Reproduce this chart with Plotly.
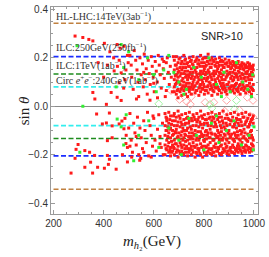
import plotly.graph_objects as go

# ---------------- data ----------------
# horizontal sensitivity lines (|sin theta| reach)
line_names = ["HL-LHC", "ILC250", "ILC1TeV", "CircEE"]
line_levels = [0.343, 0.205, 0.133, 0.080]
line_colors = ["#c0803f", "#1a2cff", "#1e8c1e", "#33eeee"]
line_x = [200, 1000]

# red points, sparse low-mass region (x, y)
red_sparse = [(286, 0.29), (317, 0.284), (341, 0.276), (357, 0.27), (403, 0.26), (454, 0.255),
              (466, 0.24), (481, 0.248), (462, 0.19), (442, 0.146), (470, 0.138), (489, 0.15),
              (485, 0.11), (462, 0.097), (357, 0.057), (430, 0.057), (454, 0.037), (411, 0.008),
              (470, 0.024), (425, 0.225), (440, 0.2), (495, 0.21), (378, 0.18), (415, 0.17),
              (455, 0.165), (498, 0.18), (480, 0.075), (400, 0.12), (365, 0.03),
              (372, -0.032), (423, -0.028), (395, -0.073), (411, -0.069), (434, -0.081),
              (462, -0.073), (473, -0.061), (481, -0.093), (434, -0.13), (415, -0.142),
              (489, -0.154), (298, -0.158), (290, -0.178), (325, -0.183), (344, -0.19),
              (286, -0.215), (364, -0.203), (415, -0.203), (423, -0.219), (348, -0.231),
              (325, -0.252), (376, -0.252), (403, -0.256), (419, -0.24), (450, -0.26),
              (270, -0.276), (356, -0.276), (475, -0.2), (495, -0.23)]

# red points, intermediate region
red_mid = [(505, 0.21), (510, 0.17), (512, 0.12), (518, 0.07), (522, 0.23), (528, 0.19), (533, 0.15),
           (537, 0.1), (540, 0.04), (545, 0.2), (550, 0.13), (555, 0.175), (558, 0.08), (562, 0.215),
           (566, 0.11), (570, 0.155), (574, 0.05), (578, 0.19), (582, 0.135), (586, 0.09), (590, 0.205),
           (594, 0.165), (598, 0.12), (602, 0.06), (606, 0.185), (610, 0.145), (614, 0.1), (618, 0.21),
           (622, 0.17), (626, 0.13), (630, 0.075), (634, 0.195), (638, 0.155), (642, 0.115), (646, 0.04),
           (650, 0.18), (654, 0.2), (658, 0.14), (662, 0.09), (666, 0.165), (670, 0.12), (674, 0.06),
           (678, 0.205), (531, 0.03), (585, 0.025), (615, 0.035), (650, 0.065), (640, 0.185),
           (600, 0.095), (560, 0.14),
           (485, -0.05), (490, -0.12), (495, -0.17), (500, -0.09), (505, -0.03), (510, -0.14),
           (515, -0.19), (520, -0.07), (525, -0.11), (530, -0.16), (535, -0.045), (540, -0.2),
           (545, -0.09), (550, -0.13), (555, -0.175), (560, -0.06), (565, -0.1), (570, -0.15),
           (575, -0.025), (580, -0.205), (585, -0.08), (590, -0.12), (595, -0.165), (600, -0.05),
           (605, -0.14), (610, -0.185), (615, -0.095), (620, -0.035), (625, -0.125), (630, -0.17),
           (635, -0.07), (638, -0.2), (512, -0.21), (548, -0.215), (590, -0.21), (560, -0.19),
           (597, -0.04), (625, -0.155), (505, -0.165), (530, -0.125), (544, -0.223)]

# red points, dense high-mass band, upper branch: (x, [y...])
red_dense_up = [
    (682, [0.19, 0.15, 0.11, 0.08, 0.06]), (690, [0.205, 0.17, 0.13, 0.095, 0.05]),
    (697, [0.18, 0.14, 0.12, 0.07, 0.035]), (705, [0.2, 0.16, 0.125, 0.09, 0.06]),
    (712, [0.185, 0.15, 0.105, 0.075, 0.045]), (720, [0.21, 0.175, 0.135, 0.1, 0.065]),
    (727, [0.195, 0.16, 0.12, 0.085, 0.05]), (735, [0.18, 0.145, 0.11, 0.07, 0.04]),
    (742, [0.2, 0.165, 0.13, 0.095, 0.06]), (750, [0.19, 0.155, 0.115, 0.08, 0.05]),
    (757, [0.205, 0.17, 0.14, 0.1, 0.07]), (765, [0.185, 0.15, 0.12, 0.085, 0.055]),
    (772, [0.2, 0.16, 0.13, 0.095, 0.065]), (780, [0.19, 0.175, 0.11, 0.075, 0.045]),
    (787, [0.21, 0.145, 0.125, 0.09, 0.06]), (795, [0.195, 0.165, 0.135, 0.1, 0.07]),
    (802, [0.18, 0.155, 0.115, 0.08, 0.05]), (810, [0.2, 0.17, 0.14, 0.105, 0.065]),
    (817, [0.215, 0.15, 0.12, 0.085, 0.055]), (825, [0.19, 0.16, 0.13, 0.095, 0.07]),
    (832, [0.2, 0.175, 0.11, 0.075, 0.045]), (840, [0.185, 0.145, 0.125, 0.09, 0.06]),
    (847, [0.195, 0.165, 0.135, 0.1, 0.075]), (855, [0.18, 0.155, 0.115, 0.08, 0.05]),
    (862, [0.2, 0.17, 0.14, 0.105, 0.065]), (870, [0.19, 0.15, 0.12, 0.085, 0.055]),
    (877, [0.185, 0.16, 0.13, 0.095, 0.07]), (885, [0.195, 0.175, 0.11, 0.075, 0.06]),
    (892, [0.18, 0.145, 0.125, 0.09, 0.05]), (900, [0.19, 0.165, 0.135, 0.1, 0.075]),
    (907, [0.175, 0.155, 0.115, 0.08, 0.06]), (915, [0.185, 0.17, 0.14, 0.105, 0.065]),
    (922, [0.18, 0.15, 0.12, 0.085, 0.055]), (930, [0.175, 0.16, 0.13, 0.095, 0.07]),
    (937, [0.185, 0.145, 0.11, 0.075, 0.06]), (945, [0.17, 0.155, 0.125, 0.09, 0.05]),
    (952, [0.18, 0.165, 0.135, 0.1, 0.075]), (960, [0.175, 0.15, 0.115, 0.08, 0.065]),
    (967, [0.17, 0.16, 0.14, 0.105, 0.055]), (975, [0.18, 0.145, 0.12, 0.085, 0.07]),
    (982, [0.175, 0.155, 0.13, 0.095, 0.06]), (990, [0.165, 0.14, 0.11, 0.075, 0.05]),
    (997, [0.17, 0.15, 0.125, 0.09, 0.065]),
]
red_dense_up2 = [
    (686, [0.17, 0.125, 0.09]), (694, [0.155, 0.105, 0.065]), (701, [0.195, 0.145, 0.1]),
    (709, [0.175, 0.135, 0.07]), (716, [0.16, 0.115, 0.085]), (724, [0.19, 0.145, 0.075]),
    (731, [0.175, 0.13, 0.095]), (739, [0.165, 0.12, 0.08]), (746, [0.185, 0.14, 0.07]),
    (754, [0.175, 0.125, 0.09]), (761, [0.16, 0.11, 0.08]), (769, [0.19, 0.14, 0.065]),
    (776, [0.175, 0.12, 0.1]), (784, [0.165, 0.135, 0.085]), (791, [0.18, 0.11, 0.075]),
    (799, [0.2, 0.145, 0.09]), (806, [0.165, 0.13, 0.065]), (814, [0.185, 0.115, 0.08]),
    (821, [0.175, 0.14, 0.1]), (829, [0.16, 0.12, 0.085]), (836, [0.19, 0.135, 0.065]),
    (844, [0.17, 0.11, 0.08]), (851, [0.18, 0.145, 0.09]), (859, [0.165, 0.125, 0.07]),
    (866, [0.185, 0.135, 0.095]), (874, [0.17, 0.11, 0.075]), (881, [0.16, 0.14, 0.085]),
    (889, [0.175, 0.12, 0.065]), (896, [0.165, 0.13, 0.09]), (904, [0.18, 0.14, 0.07]),
    (911, [0.16, 0.125, 0.085]), (919, [0.17, 0.11, 0.075]), (926, [0.165, 0.135, 0.09]),
    (934, [0.175, 0.12, 0.065]), (941, [0.16, 0.14, 0.085]), (949, [0.17, 0.115, 0.07]),
    (956, [0.155, 0.13, 0.09]), (964, [0.165, 0.12, 0.075]), (971, [0.16, 0.135, 0.085]),
    (979, [0.165, 0.11, 0.065]), (986, [0.155, 0.125, 0.08]), (994, [0.16, 0.135, 0.07]),
]

# red points, dense high-mass band, lower branch
red_dense_low = [
    (645, [-0.03, -0.08, -0.12, -0.16, -0.2]), (652, [-0.05, -0.1, -0.14, -0.18, -0.06]),
    (660, [-0.025, -0.07, -0.11, -0.15, -0.19]), (667, [-0.04, -0.09, -0.13, -0.17, -0.205]),
    (675, [-0.06, -0.1, -0.12, -0.16, -0.185]), (682, [-0.03, -0.08, -0.14, -0.175, -0.2]),
    (690, [-0.045, -0.095, -0.11, -0.155, -0.19]), (697, [-0.02, -0.065, -0.125, -0.165, -0.21]),
    (705, [-0.05, -0.085, -0.135, -0.15, -0.195]), (712, [-0.035, -0.075, -0.105, -0.17, -0.185]),
    (720, [-0.055, -0.1, -0.13, -0.16, -0.2]), (727, [-0.03, -0.07, -0.12, -0.145, -0.19]),
    (735, [-0.045, -0.09, -0.14, -0.175, -0.205]), (742, [-0.025, -0.06, -0.11, -0.155, -0.185]),
    (750, [-0.05, -0.095, -0.125, -0.165, -0.2]), (757, [-0.035, -0.08, -0.135, -0.15, -0.19]),
    (765, [-0.055, -0.1, -0.115, -0.17, -0.21]), (772, [-0.03, -0.065, -0.13, -0.16, -0.195]),
    (780, [-0.045, -0.085, -0.14, -0.175, -0.185]), (787, [-0.02, -0.075, -0.105, -0.155, -0.2]),
    (795, [-0.05, -0.09, -0.125, -0.165, -0.21]), (802, [-0.035, -0.07, -0.12, -0.145, -0.19]),
    (810, [-0.055, -0.1, -0.135, -0.17, -0.2]), (817, [-0.03, -0.08, -0.11, -0.16, -0.185]),
    (825, [-0.045, -0.095, -0.13, -0.15, -0.195]), (832, [-0.025, -0.06, -0.115, -0.175, -0.2]),
    (840, [-0.05, -0.085, -0.14, -0.165, -0.19]), (847, [-0.035, -0.075, -0.12, -0.155, -0.205]),
    (855, [-0.055, -0.1, -0.125, -0.17, -0.185]), (862, [-0.03, -0.065, -0.135, -0.145, -0.195]),
    (870, [-0.045, -0.09, -0.105, -0.16, -0.2]), (877, [-0.02, -0.07, -0.13, -0.175, -0.19]),
    (885, [-0.05, -0.095, -0.12, -0.155, -0.185]), (892, [-0.035, -0.08, -0.14, -0.165, -0.195]),
    (900, [-0.055, -0.1, -0.115, -0.15, -0.2]), (907, [-0.03, -0.06, -0.125, -0.17, -0.185]),
    (915, [-0.045, -0.085, -0.135, -0.16, -0.19]), (922, [-0.025, -0.075, -0.11, -0.145, -0.195]),
    (930, [-0.05, -0.09, -0.13, -0.175, -0.185]), (937, [-0.035, -0.07, -0.12, -0.155, -0.19]),
    (945, [-0.055, -0.1, -0.14, -0.165, -0.18]), (952, [-0.03, -0.08, -0.105, -0.15, -0.195]),
    (960, [-0.045, -0.095, -0.125, -0.17, -0.185]), (967, [-0.025, -0.065, -0.135, -0.16, -0.19]),
    (975, [-0.05, -0.085, -0.115, -0.145, -0.18]), (982, [-0.035, -0.075, -0.13, -0.175, -0.19]),
    (990, [-0.055, -0.1, -0.12, -0.155, -0.185]), (997, [-0.04, -0.07, -0.14, -0.165, -0.18]),
]
red_dense_low2 = [
    (649, [-0.045, -0.1, -0.175]), (656, [-0.085, -0.125, -0.165]), (664, [-0.055, -0.095, -0.18]),
    (671, [-0.075, -0.145, -0.19]), (679, [-0.04, -0.115, -0.17]), (686, [-0.06, -0.105, -0.155]),
    (694, [-0.08, -0.13, -0.18]), (701, [-0.04, -0.11, -0.185]), (709, [-0.065, -0.12, -0.16]),
    (716, [-0.09, -0.14, -0.195]), (724, [-0.075, -0.115, -0.175]), (731, [-0.05, -0.1, -0.165]),
    (739, [-0.07, -0.125, -0.19]), (746, [-0.085, -0.135, -0.175]), (754, [-0.06, -0.11, -0.18]),
    (761, [-0.045, -0.12, -0.165]), (769, [-0.08, -0.14, -0.19]), (776, [-0.055, -0.105, -0.175]),
    (784, [-0.065, -0.125, -0.195]), (791, [-0.04, -0.115, -0.17]), (799, [-0.075, -0.14, -0.18]),
    (806, [-0.055, -0.105, -0.165]), (814, [-0.07, -0.12, -0.19]), (821, [-0.05, -0.13, -0.175]),
    (829, [-0.08, -0.11, -0.18]), (836, [-0.045, -0.14, -0.19]), (844, [-0.065, -0.115, -0.17]),
    (851, [-0.085, -0.13, -0.185]), (859, [-0.045, -0.11, -0.175]), (866, [-0.08, -0.12, -0.165]),
    (874, [-0.06, -0.14, -0.19]), (881, [-0.085, -0.115, -0.18]), (889, [-0.07, -0.135, -0.17]),
    (896, [-0.05, -0.11, -0.185]), (904, [-0.075, -0.13, -0.175]), (911, [-0.06, -0.115, -0.19]),
    (919, [-0.085, -0.14, -0.17]), (926, [-0.065, -0.12, -0.18]), (934, [-0.055, -0.105, -0.165]),
    (941, [-0.08, -0.135, -0.175]), (949, [-0.065, -0.115, -0.185]), (956, [-0.045, -0.13, -0.17]),
    (964, [-0.075, -0.11, -0.18]), (971, [-0.06, -0.14, -0.165]), (979, [-0.085, -0.12, -0.17]),
    (986, [-0.065, -0.105, -0.175]), (994, [-0.05, -0.13, -0.16]),
]

green_pts = [(294, 0.25), (470, 0.255), (450, 0.08), (480, 0.16), (500, 0.225), (540, 0.11),
             (575, 0.2), (610, 0.06), (640, 0.15), (660, 0.21), (700, 0.1), (730, 0.07),
             (760, 0.16), (790, 0.12), (820, 0.2), (850, 0.09), (880, 0.14), (905, 0.06),
             (930, 0.18), (955, 0.1), (975, 0.07), (995, 0.13), (720, 0.05), (870, 0.04),
             (990, 0.04), (600, 0.13), (680, 0.14), (317, 0.0),
             (305, -0.19), (454, -0.053), (470, -0.085), (480, -0.16), (520, -0.225),
             (490, -0.035), (540, -0.12), (580, -0.06), (620, -0.17), (660, -0.09),
             (700, -0.14), (740, -0.05), (770, -0.12), (800, -0.18), (830, -0.07),
             (860, -0.15), (890, -0.1), (920, -0.06), (950, -0.16), (980, -0.12),
             (997, -0.18), (710, -0.2), (850, -0.04), (1000, -0.085)]

red_diamonds = [(703, 0.028), (731, 0.02), (750, 0.04), (805, 0.016), (840, 0.016), (891, 0.024),
                (930, 0.057), (973, 0.037), (996, 0.024), (669, 0.065), (746, 0.008),
                (942, -0.016), (996, -0.045), (825, -0.045), (883, -0.02), (985, -0.04)]
green_diamonds = [(922, -0.012), (832, -0.008), (825, 0.008), (930, 0.024), (620, 0.01)]

labels = ["HL-LHC:14TeV(3ab<sup>−1</sup>)", "ILC:250GeV(250fb<sup>−1</sup>)",
          "ILC:1TeV(1ab<sup>−1</sup>)",
          "Circ <i>e</i><sup>+</sup><i>e</i><sup>−</sup>:240GeV(1ab<sup>−1</sup>)"]
label_y = [0.372, 0.242, 0.168, 0.105]
x_ticks = [200, 400, 600, 800, 1000]
y_ticks = [-0.4, -0.2, 0.0, 0.2, 0.4]


def flatten(cols):
    xs, ys = [], []
    for x, yl in cols:
        for y in yl:
            xs.append(x)
            ys.append(y)
    return xs, ys


fig = go.Figure()

for name, lv, col in zip(line_names, line_levels, line_colors):
    for s in (1, -1):
        fig.add_trace(go.Scatter(x=line_x, y=[s * lv, s * lv], mode="lines",
                                 line=dict(color=col, width=1.6, dash="5px,2.5px"),
                                 showlegend=False, hoverinfo="skip"))

rx = [p[0] for p in red_sparse + red_mid]
ry = [p[1] for p in red_sparse + red_mid]
for cols in (red_dense_up, red_dense_up2, red_dense_low, red_dense_low2):
    cx, cy = flatten(cols)
    rx += cx
    ry += cy

fig.add_trace(go.Scatter(x=[p[0] for p in red_diamonds], y=[p[1] for p in red_diamonds], mode="markers",
                         marker=dict(symbol="diamond-open", size=6, color="#ff8a8a", line=dict(width=0.8)),
                         showlegend=False))
fig.add_trace(go.Scatter(x=[p[0] for p in green_diamonds], y=[p[1] for p in green_diamonds], mode="markers",
                         marker=dict(symbol="diamond-open", size=6, color="#8af08a", line=dict(width=0.8)),
                         showlegend=False))
fig.add_trace(go.Scatter(x=rx, y=ry, mode="markers",
                         marker=dict(symbol="square", size=3, color="#ff1a1a", line=dict(width=0)),
                         showlegend=False))
fig.add_trace(go.Scatter(x=[p[0] for p in green_pts], y=[p[1] for p in green_pts], mode="markers",
                         marker=dict(symbol="square", size=3, color="#33ee33", line=dict(width=0)),
                         showlegend=False))

ann = []
for t, y in zip(labels, label_y):
    ann.append(dict(x=203, y=y, xref="x", yref="y", text=t, showarrow=False, xanchor="left",
                    yanchor="middle", font=dict(family="Liberation Serif", size=10, color="#333333")))
ann.append(dict(x=872, y=0.29, xref="x", yref="y", text="SNR>10", showarrow=False,
                font=dict(family="Liberation Sans", size=11, color="#222222")))
ann.append(dict(x=-0.18, y=0.5, xref="paper", yref="paper", text="sin <i>θ</i>", showarrow=False,
                textangle=-90, font=dict(family="Liberation Serif", size=15, color="#222222")))
ann.append(dict(x=0.49, y=-0.135, xref="paper", yref="paper", yanchor="middle",
                text="<i>m</i><sub><i>h</i>₂</sub>(GeV)", showarrow=False,
                font=dict(family="Liberation Serif", size=15, color="#222222")))

axis_common = dict(showline=True, linecolor="#9a9a9a", linewidth=1, mirror="allticks",
                   ticks="inside", ticklen=4, tickcolor="#9a9a9a", showgrid=False,
                   ticklabeloverflow="allow",
                   tickfont=dict(family="Liberation Sans", size=10, color="#333333"))

fig.update_layout(
    width=269, height=257, margin=dict(l=51, r=7, t=4, b=43),
    paper_bgcolor="white", plot_bgcolor="white", annotations=ann,
    xaxis=dict(range=[190, 1016], tickvals=x_ticks,
               minor=dict(dtick=50, ticks="inside", ticklen=2, tickcolor="#9a9a9a"),
               zeroline=False, **axis_common),
    yaxis=dict(range=[-0.445, 0.41], tickvals=y_ticks, tickformat=".1f",
               minor=dict(dtick=0.05, ticks="inside", ticklen=2, tickcolor="#9a9a9a"),
               zeroline=True, zerolinecolor="#8a8a8a", zerolinewidth=1, **axis_common),
)

fig.write_html("out.html", config={"displayModeBar": False},
               post_script="document.body.style.margin='0';")
